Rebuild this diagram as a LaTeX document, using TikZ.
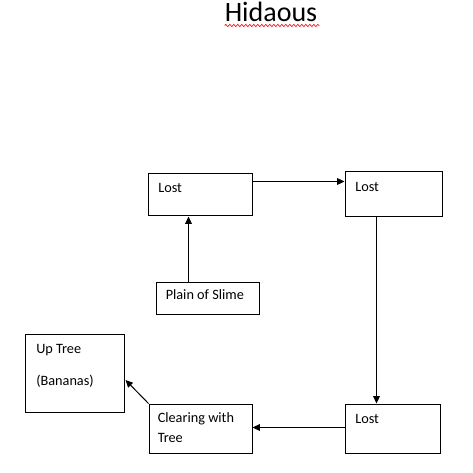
\documentclass[tikz,border=0pt]{standalone}
\usepackage{fontspec}
\setmainfont{Carlito}
\usetikzlibrary{arrows.meta,calc,decorations.pathmorphing}
\tikzset{
  box/.style={draw, line width=0.75pt, inner sep=0pt, anchor=north west},
  txt/.style={inner sep=0pt, anchor=base west, align=left,
    font=\fontsize{10.7}{15}\selectfont},
  arr/.style={line width=0.75pt, -{Triangle[length=5.5pt,width=5pt]}}
}
\begin{document}
\begin{tikzpicture}[x=0.75pt,y=-0.75pt]
    \useasboundingbox (0,0) rectangle (472,473);
    % title with its spell-check squiggle
    \node[inner sep=0pt, anchor=base, font=\fontsize{21}{25}\selectfont] (title) at (271,22) {Hidaous};
    \draw[red, line width=0.5pt, decorate, decoration={snake, amplitude=0.8pt, segment length=3pt}]
      ($(title.base west)+(0,3.5)$) -- ($(title.base east)+(2,3.5)$);
    % boxes
    \node[box, minimum width=104.5*0.75pt, minimum height=42*0.75pt] (lostA) at (147.5,173.5) {};
    \node[box, minimum width=97*0.75pt, minimum height=45*0.75pt] (lostB) at (344.5,171.5) {};
    \node[box, minimum width=103*0.75pt, minimum height=32*0.75pt] (plain) at (155.5,281.5) {};
    \node[box, minimum width=95*0.75pt, minimum height=49*0.75pt] (lostC) at (344.5,403.5) {};
    \node[box, minimum width=103*0.75pt, minimum height=49*0.75pt] (clear) at (148.5,403.5) {};
    \node[box, minimum width=99*0.75pt, minimum height=78*0.75pt] (uptree) at (24.5,333.5) {};
    % texts (base = last line)
    \node[txt] (lostAt) at ($(lostA.north west)+(10.5,19)$) {Lost};
    \node[txt] (lostBt) at ($(lostB.north west)+(10.5,20)$) {Lost};
    \node[txt] (plaint) at ($(plain.north west)+(10,18)$) {Plain of Slime};
    \node[txt] (lostCt) at ($(lostC.north west)+(10.5,20)$) {Lost};
    \node[txt] (cleart) at ($(clear.north west)+(9,39)$) {Clearing with\\Tree};
    \node[txt] (uptreet) at ($(uptree.north west)+(11.5,52)$) {Up Tree\\[9pt](Bananas)};
    % connectors
    \coordinate (aOut) at ($(lostA.north east)+(0,8)$);
    \draw[arr] (aOut) -- (aOut -| lostB.west);
    \coordinate (pOut) at ($(plain.north west)+(33,0)$);
    \draw[arr] (pOut) -- (pOut |- lostA.south);
    \coordinate (bOut) at ($(lostB.south west)+(32,0)$);
    \draw[arr] (bOut) -- (bOut |- lostC.north);
    \coordinate (cOut) at ($(lostC.north west)+(0,24)$);
    \draw[arr] (cOut) -- (cOut -| clear.east);
    \draw[arr] (clear.north west) -- ($(uptree.east)+(1,7)$);
\end{tikzpicture}
\end{document}
